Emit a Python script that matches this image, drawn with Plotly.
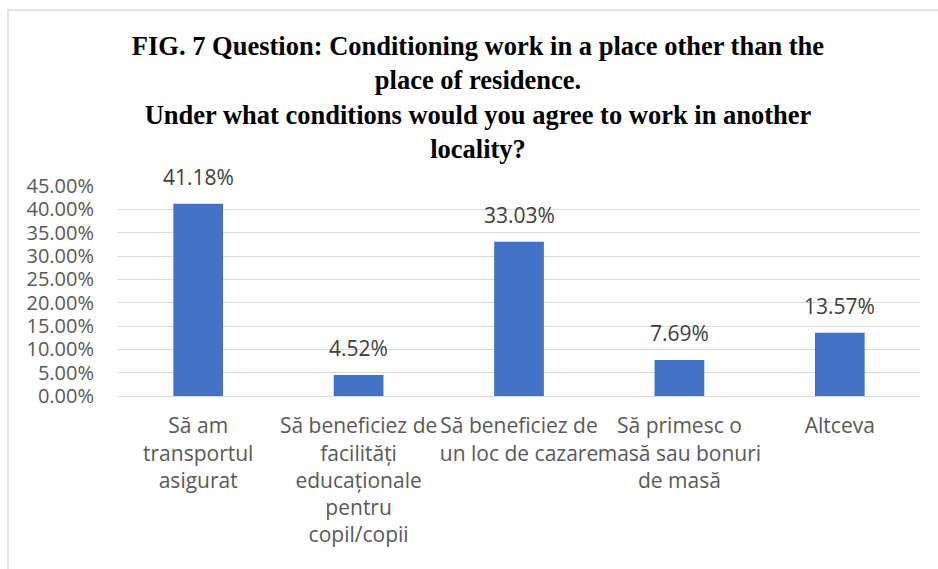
import plotly.graph_objects as go

categories = [
    "Să am<br>transportul<br>asigurat",
    "Să beneficiez de<br>facilități<br>educaționale<br>pentru<br>copil/copii",
    "Să beneficiez de<br>un loc de cazare",
    "Să primesc o<br>masă sau bonuri<br>de masă",
    "Altceva",
]
values = [41.18, 4.52, 33.03, 7.69, 13.57]
y_ticks = [0, 5, 10, 15, 20, 25, 30, 35, 40, 45]
y_tick_labels = [f"{v:.2f}%" for v in y_ticks]
title_text = ("FIG. 7 Question: Conditioning work in a place other than the<br>"
              "place of residence.<br>"
              "Under what conditions would you agree to work in another<br>"
              "locality?")

W, H = 938, 569
L, R, T, B = 118, 18, 186, 173
FONT = "Open Sans"
FS = 21

fig = go.Figure()
xs = list(range(len(categories)))
fig.add_trace(go.Bar(x=xs, y=values, marker=dict(color="#4472C4", line=dict(width=0)),
                     width=0.31, hoverinfo="skip"))

for x, v in zip(xs, values):
    fig.add_annotation(x=x, y=v, text=f"{v:.2f}%", showarrow=False, yanchor="bottom",
                       yshift=11, font=dict(family=FONT, size=FS, color="#404040"))

fig.update_layout(
    width=W, height=H,
    margin=dict(l=L, r=R, t=T, b=B),
    paper_bgcolor="white", plot_bgcolor="white",
    showlegend=False,
    title=dict(text=title_text, x=478 / W, xanchor="center", xref="container",
               y=1 - 55 / H, yanchor="top", yref="container",
               font=dict(family="Liberation Serif", size=26.5, color="black", weight="bold")),
    font=dict(family=FONT, size=FS, color="#595959"),
)

fig.update_xaxes(range=[-0.5, 4.5], tickmode="array", tickvals=xs, ticktext=categories,
                 showgrid=False, showline=True, linecolor="#d9d9d9", linewidth=1,
                 ticks="", ticklabelstandoff=11, tickangle=0,
                 tickfont=dict(family=FONT, size=FS, color="#595959"))
fig.update_yaxes(range=[0, 45], tickmode="array", tickvals=y_ticks, ticktext=y_tick_labels,
                 showgrid=True, gridcolor="#d9d9d9", gridwidth=1, zeroline=False,
                 showline=False, ticks="", ticklabelstandoff=23,
                 tickfont=dict(family=FONT, size=20, color="#595959"))

# chart border
pw, ph = W - L - R, H - T - B
fig.add_shape(type="rect", xref="paper", yref="paper",
              x0=(8 - L) / pw, x1=(W + 5 - L) / pw,
              y0=(H - B - (H + 5)) / ph, y1=(H - B - 10) / ph,
              line=dict(color="#d9d9d9", width=1.5), fillcolor="rgba(0,0,0,0)", layer="below")

fig.write_html("out.html")
